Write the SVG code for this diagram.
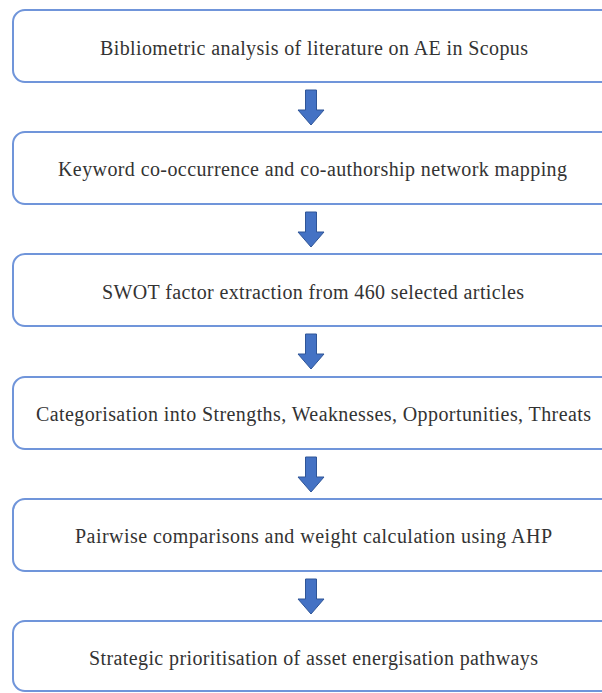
<svg xmlns="http://www.w3.org/2000/svg" width="602" height="693" viewBox="0 0 602 693">
<style>
.box{fill:#ffffff;stroke:#7095DA;stroke-width:2}
.lbl{font-family:"Liberation Serif","Times New Roman",serif;font-size:20px;fill:#333333;text-anchor:middle}
.arr{fill:#4472C4;stroke:#2F5597;stroke-width:1}
</style>
<rect width="602" height="693" fill="#ffffff"/>
<g id="n1"><rect class="box" x="13" y="10" width="615" height="72" rx="12"/><text class="lbl" x="314" y="55" textLength="428" lengthAdjust="spacing">Bibliometric analysis of literature on AE in Scopus</text></g>
<g id="n2"><rect class="box" x="13" y="132" width="615" height="72" rx="12"/><text class="lbl" x="312.5" y="176" textLength="509" lengthAdjust="spacing">Keyword co-occurrence and co-authorship network mapping</text></g>
<g id="n3"><rect class="box" x="13" y="254" width="615" height="72" rx="12"/><text class="lbl" x="313" y="299" textLength="422" lengthAdjust="spacing">SWOT factor extraction from 460 selected articles</text></g>
<g id="n4"><rect class="box" x="13" y="377" width="615" height="72" rx="12"/><text class="lbl" x="313.5" y="421" textLength="555" lengthAdjust="spacing">Categorisation into Strengths, Weaknesses, Opportunities, Threats</text></g>
<g id="n5"><rect class="box" x="13" y="499" width="615" height="72" rx="12"/><text class="lbl" x="313.5" y="543" textLength="477" lengthAdjust="spacing">Pairwise comparisons and weight calculation using AHP</text></g>
<g id="n6"><rect class="box" x="13" y="621" width="615" height="70" rx="12"/><text class="lbl" x="313.5" y="665" textLength="449" lengthAdjust="spacing">Strategic prioritisation of asset energisation pathways</text></g>
<g id="connectors">
<path class="arr" d="M305.5,90 H316.5 V110 H324 L311,125 L298,110 H305.5 Z"/>
<path class="arr" d="M305.5,212 H316.5 V232 H324 L311,247 L298,232 H305.5 Z"/>
<path class="arr" d="M305.5,334 H316.5 V354 H324 L311,369 L298,354 H305.5 Z"/>
<path class="arr" d="M305.5,457 H316.5 V477 H324 L311,492 L298,477 H305.5 Z"/>
<path class="arr" d="M305.5,579 H316.5 V599 H324 L311,614 L298,599 H305.5 Z"/>
</g>
</svg>
